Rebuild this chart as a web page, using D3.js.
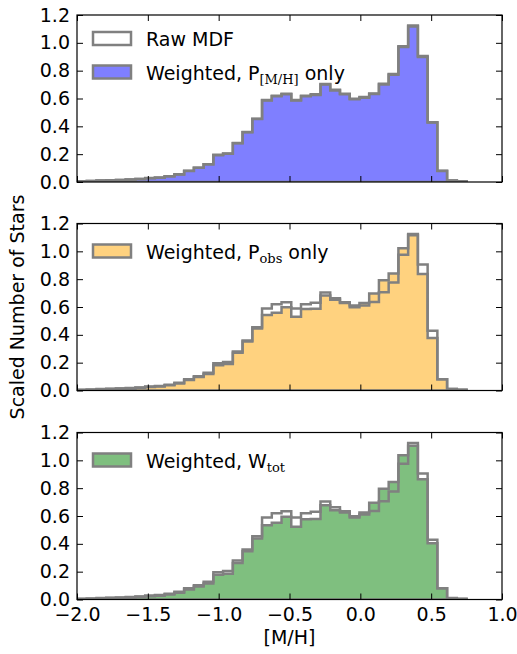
<!DOCTYPE html>
<html>
<head>
<meta charset="utf-8">
<script src="https://cdn.jsdelivr.net/npm/d3@7"></script>
<style>
body { margin: 0; background: #fff; }
svg { display: block; }
text { font-family: "DejaVu Sans", sans-serif; }
</style>
</head>
<body>
<div id="graph"></div>
<script>
// histogram bins: 40 equal bins from -2.0 to 0.75 in [M/H]
var binLo = -2.0, binHi = 0.75;

var rawMDF = [0.005, 0.007, 0.010, 0.012, 0.015, 0.018, 0.022, 0.028, 0.032, 0.042,
  0.055, 0.080, 0.103, 0.128, 0.195, 0.205, 0.280, 0.360, 0.455, 0.590,
  0.620, 0.635, 0.590, 0.620, 0.630, 0.705, 0.662, 0.634, 0.598, 0.610,
  0.636, 0.706, 0.776, 0.976, 1.125, 0.905, 0.430, 0.080, 0.010, 0.005];

var weightedMH = [0.005, 0.007, 0.010, 0.012, 0.015, 0.018, 0.022, 0.027, 0.031, 0.041,
  0.054, 0.079, 0.102, 0.127, 0.193, 0.203, 0.278, 0.357, 0.452, 0.586,
  0.616, 0.631, 0.586, 0.616, 0.626, 0.700, 0.658, 0.630, 0.594, 0.606,
  0.632, 0.701, 0.771, 0.970, 1.118, 0.899, 0.427, 0.079, 0.010, 0.005];

var weightedObs = [0.004, 0.006, 0.009, 0.011, 0.014, 0.017, 0.020, 0.025, 0.028, 0.038,
  0.050, 0.075, 0.097, 0.118, 0.182, 0.190, 0.272, 0.352, 0.445, 0.542,
  0.559, 0.598, 0.530, 0.586, 0.588, 0.682, 0.652, 0.628, 0.610, 0.628,
  0.697, 0.793, 0.841, 1.022, 1.115, 0.837, 0.378, 0.080, 0.010, 0.005];

var weightedTot = [0.004, 0.006, 0.009, 0.011, 0.013, 0.016, 0.019, 0.024, 0.027, 0.036,
  0.048, 0.072, 0.094, 0.115, 0.178, 0.185, 0.262, 0.346, 0.438, 0.534,
  0.551, 0.594, 0.522, 0.577, 0.578, 0.678, 0.642, 0.625, 0.590, 0.625,
  0.695, 0.796, 0.844, 1.037, 1.105, 0.864, 0.404, 0.080, 0.008, 0.004];

var xTicks = [-2.0, -1.5, -1.0, -0.5, 0.0, 0.5, 1.0];
var yTicks = [0.0, 0.2, 0.4, 0.6, 0.8, 1.0, 1.2];

var W = 517, H = 654;
var left = 77, right = 502, panelH = 167;
var edgeColor = "#808080";
var fontSize = 19;

var svg = d3.select("#graph").append("svg")
  .attr("width", W)
  .attr("height", H);

var x = d3.scaleLinear().domain([-2.0, 1.0]).range([left, right]);

var nBins = rawMDF.length;
var binW = (binHi - binLo) / nBins;

// turn a list of bin heights into step points, closed on the baseline
function stepPoints(h) {
  var pts = [[binLo, 0]];
  h.forEach(function(v, i) { pts.push([binLo + i * binW, v]); });
  pts.push([binHi, h[nBins - 1]]);
  pts.push([binHi, 0]);
  return pts;
}

var panels = [
  {top: 15, values: weightedMH, fill: "#7f7fff", sub: "[M/H]", pre: "Weighted, P", post: " only", showRaw: true},
  {top: 223.5, values: weightedObs, fill: "#ffd27f", sub: "obs", pre: "Weighted, P", post: " only", showRaw: false},
  {top: 432.5, values: weightedTot, fill: "#7fbf7f", sub: "tot", pre: "Weighted, W", post: "", showRaw: false}
];

panels.forEach(function(p, idx) {
  var y = d3.scaleLinear().domain([0, 1.2]).range([p.top + panelH, p.top]);
  var g = svg.append("g");

  var clipId = "clip" + idx;
  svg.append("clipPath").attr("id", clipId)
    .append("rect")
    .attr("x", left).attr("y", p.top)
    .attr("width", right - left).attr("height", panelH);

  var line = d3.line()
    .x(function(d) { return x(d[0]); })
    .y(function(d) { return y(d[1]); })
    .curve(d3.curveStepAfter);

  var plot = g.append("g").attr("clip-path", "url(#" + clipId + ")");

  // weighted histogram (filled)
  plot.append("path")
    .attr("d", line(stepPoints(p.values)) + "Z")
    .attr("fill", p.fill)
    .attr("stroke", edgeColor)
    .attr("stroke-width", 2.5)
    .attr("stroke-linejoin", "miter");

  // raw MDF outline on top
  plot.append("path")
    .attr("d", line(stepPoints(rawMDF)))
    .attr("fill", "none")
    .attr("stroke", edgeColor)
    .attr("stroke-width", 2.5)
    .attr("stroke-linejoin", "miter");

  // axes: ticks point inward on all four sides
  g.append("g").attr("transform", "translate(" + left + ",0)")
    .call(d3.axisLeft(y).tickValues(yTicks).tickSize(-6).tickSizeOuter(0)
      .tickPadding(7).tickFormat(d3.format(".1f")));
  g.append("g").attr("transform", "translate(" + right + ",0)")
    .call(d3.axisRight(y).tickValues(yTicks).tickSize(-6).tickSizeOuter(0).tickFormat(""));
  g.append("g").attr("transform", "translate(0," + p.top + ")")
    .call(d3.axisTop(x).tickValues(xTicks).tickSize(-6).tickSizeOuter(0).tickFormat(""));
  g.append("g").attr("transform", "translate(0," + (p.top + panelH) + ")")
    .call(d3.axisBottom(x).tickValues(xTicks).tickSize(-6).tickSizeOuter(0)
      .tickPadding(8).tickFormat(idx == 2 ? d3.format(".1f") : ""));

  g.selectAll(".domain").remove();
  g.selectAll(".tick line").attr("stroke", "#000");
  g.selectAll(".tick text")
    .attr("font-size", fontSize)
    .attr("font-family", "DejaVu Sans, sans-serif")
    .attr("fill", "#000");

  g.append("rect")
    .attr("x", left).attr("y", p.top)
    .attr("width", right - left).attr("height", panelH)
    .attr("fill", "none")
    .attr("stroke", "#000")
    .attr("stroke-width", 1.2);

  // legend
  var entries = [];
  if (p.showRaw) entries.push({fill: "#fff", raw: true});
  entries.push({fill: p.fill, raw: false});
  var ly = p.showRaw ? p.top + 17 : p.top + 21;
  entries.forEach(function(e, i) {
    var yy = ly + i * 33.5;
    g.append("rect")
      .attr("x", 93).attr("y", yy)
      .attr("width", 38).attr("height", 13)
      .attr("fill", e.fill)
      .attr("stroke", edgeColor)
      .attr("stroke-width", 2.5);
    var t = g.append("text")
      .attr("x", 146).attr("y", yy + 14)
      .attr("font-size", fontSize)
      .attr("fill", "#000");
    if (e.raw) {
      t.text("Raw MDF");
    } else {
      t.append("tspan").text(p.pre);
      t.append("tspan")
        .attr("font-family", "DejaVu Serif, serif")
        .attr("font-size", 13)
        .attr("dy", 4)
        .text(p.sub);
      t.append("tspan").attr("dy", -4).text(p.post);
    }
  });
});

// axis labels
svg.append("text")
  .attr("x", (left + right) / 2)
  .attr("y", 644)
  .attr("text-anchor", "middle")
  .attr("font-size", fontSize)
  .text("[M/H]");

svg.append("text")
  .attr("transform", "translate(24,307) rotate(-90)")
  .attr("text-anchor", "middle")
  .attr("font-size", fontSize)
  .text("Scaled Number of Stars");
</script>
</body>
</html>
